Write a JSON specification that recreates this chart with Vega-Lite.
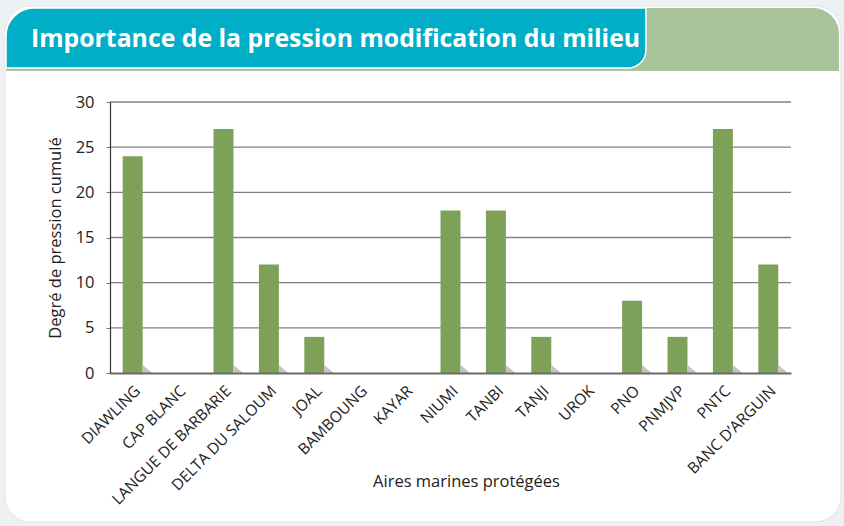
{
  "$schema": "https://vega.github.io/schema/vega-lite/v6.json",
  "width": 681,
  "height": 271,
  "autosize": {"type": "pad"},
  "padding": {"left": 4, "top": 5, "right": 4, "bottom": 5},
  "background": "#eef1f3",
  "config": {
    "view": {"stroke": null},
    "font": "Open Sans"
  },
  "datasets": {
    "deco": [
      {"part": "card", "x0": -0.1542, "x1": 1.0734, "y0": 1.3542, "y1": -0.5498},
      {"part": "green", "x0": -0.1527, "x1": 1.0705, "y0": 1.3469, "y1": 1.1144},
      {"part": "teal", "x0": -0.1527, "x1": 0.7870, "y0": 1.3469, "y1": 1.1255},
      {"part": "title", "x0": -0.116, "y0": 1.2030, "label": "Importance de la pression modification du milieu"}
    ],
    "aires": [
      {"aire": "DIAWLING", "v": 24},
      {"aire": "CAP BLANC", "v": 0},
      {"aire": "LANGUE DE BARBARIE", "v": 27},
      {"aire": "DELTA DU SALOUM", "v": 12},
      {"aire": "JOAL", "v": 4},
      {"aire": "BAMBOUNG", "v": 0},
      {"aire": "KAYAR", "v": 0},
      {"aire": "NIUMI", "v": 18},
      {"aire": "TANBI", "v": 18},
      {"aire": "TANJI", "v": 4},
      {"aire": "UROK", "v": 0},
      {"aire": "PNO", "v": 8},
      {"aire": "PNMJVP", "v": 4},
      {"aire": "PNTC", "v": 27},
      {"aire": "BANC D’ARGUIN", "v": 12}
    ],
    "grid": [
      {"g": 5}, {"g": 10}, {"g": 15}, {"g": 20}, {"g": 25}, {"g": 30}
    ]
  },
  "layer": [
    {
      "data": {"name": "deco"},
      "encoding": {
        "x": {"field": "x0", "type": "quantitative", "scale": {"domain": [0, 1], "nice": false, "zero": false}, "axis": null},
        "y": {"field": "y0", "type": "quantitative", "scale": {"domain": [0, 1], "nice": false, "zero": false}, "axis": null}
      },
      "layer": [
        {
          "transform": [{"filter": "datum.part === 'card'"}],
          "mark": {"type": "rect", "fill": "#ffffff", "stroke": "#e2e5e8", "strokeWidth": 1, "cornerRadius": 26},
          "encoding": {"x2": {"field": "x1"}, "y2": {"field": "y1"}}
        },
        {
          "transform": [{"filter": "datum.part === 'green'"}],
          "mark": {"type": "rect", "fill": "#a8c49a", "cornerRadiusTopLeft": 28, "cornerRadiusTopRight": 26},
          "encoding": {"x2": {"field": "x1"}, "y2": {"field": "y1"}}
        },
        {
          "transform": [{"filter": "datum.part === 'teal'"}],
          "mark": {"type": "rect", "fill": "#00aec7", "stroke": "#ffffff", "strokeWidth": 1.5, "cornerRadiusTopLeft": 28, "cornerRadiusBottomRight": 18},
          "encoding": {"x2": {"field": "x1"}, "y2": {"field": "y1"}}
        },
        {
          "transform": [{"filter": "datum.part === 'title'"}],
          "mark": {"type": "text", "align": "left", "baseline": "alphabetic", "color": "#ffffff", "font": "Open Sans", "fontWeight": "bold", "fontSize": 24.8},
          "encoding": {"text": {"field": "label"}}
        }
      ]
    },
    {
      "layer": [
        {
          "data": {"name": "grid"},
          "mark": {"type": "rule", "color": "#808080", "strokeWidth": 1.4},
          "encoding": {
            "y": {"field": "g", "type": "quantitative", "scale": {"domain": [0, 30], "nice": false, "zero": true}, "title": "Degré de pression cumulé"}
          }
        },
        {
          "data": {"name": "aires"},
          "mark": {"type": "bar", "color": "#7ea15a"},
          "encoding": {
            "x": {
              "field": "aire", "type": "nominal", "sort": null,
              "scale": {"paddingInner": 0.56, "paddingOuter": 0.28},
              "axis": {
                "zindex": 2,
                "title": "Aires marines protégées",
                "labelAngle": -45,
                "labelFontSize": 15.5,
                "labelColor": "#222222",
                "labelPadding": 10,
                "ticks": false,
                "domainColor": "#6a6a6a",
                "domainWidth": 2,
                "titleFontSize": 16.5,
                "titleFontWeight": "normal",
                "titleColor": "#222222",
                "titleX": 356,
                "titleY": 108,
                "titleBaseline": "middle",
                "titleAnchor": "middle"
              }
            },
            "y": {
              "field": "v", "type": "quantitative",
              "scale": {"domain": [0, 30], "nice": false, "zero": true},
              "title": "Degré de pression cumulé",
              "axis": {
                "zindex": 2,
                "values": [0, 5, 10, 15, 20, 25, 30],
                "grid": false,
                "labelFontSize": 16.5,
                "labelColor": "#222222",
                "labelPadding": 12,
                "tickSize": 4,
                "tickColor": "#7a7a7a",
                "domainColor": "#333333",
                "domainWidth": 1.2,
                "titleFontSize": 16.5,
                "titleFontWeight": "normal",
                "titleColor": "#222222",
                "titlePadding": 12
              }
            }
          }
        },
        {
          "data": {"name": "aires"},
          "transform": [{"filter": "datum.v > 0"}],
          "mark": {"type": "point", "shape": "M0,-1L0,0L1.2,0Z", "filled": true, "size": 256, "xOffset": 10, "color": "#c4c4c4", "opacity": 1},
          "encoding": {
            "x": {"field": "aire", "type": "nominal", "sort": null},
            "y": {"datum": 0, "type": "quantitative"}
          }
        }
      ]
    }
  ],
  "resolve": {"scale": {"x": "independent", "y": "independent"}}
}
